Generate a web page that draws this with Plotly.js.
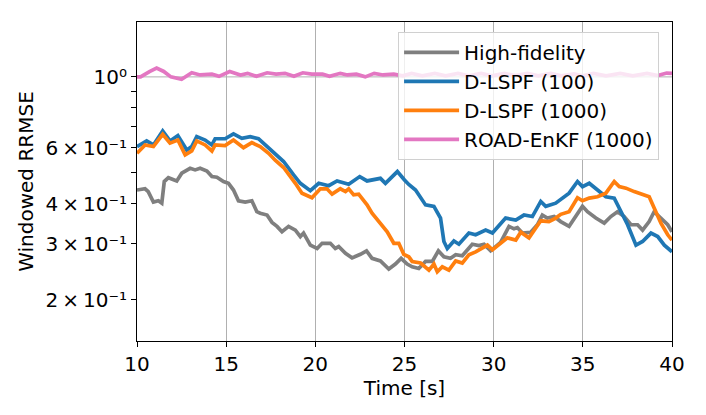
<!DOCTYPE html>
<html>
<head>
<meta charset="utf-8">
<script src="https://cdn.plot.ly/plotly-3.0.1.min.js"></script>
<style>html,body{margin:0;padding:0;background:#fff;}#chart{width:706px;height:415px;}</style>
</head>
<body>
<div id="chart"></div>
<script>
// ---- Data ----
const seriesNames = ["High-fidelity", "D-LSPF (100)", "D-LSPF (1000)", "ROAD-EnKF (1000)"];

const tHF = [10, 10.45, 10.63, 10.92, 11.2, 11.39, 11.53, 11.76, 12.23, 12.51, 12.98, 13.26, 13.54, 13.92, 14.2, 14.48, 14.85, 15.13, 15.41, 15.69, 16.07, 16.44, 16.72, 16.91, 17.29, 17.57, 17.85, 18.13, 18.5, 18.88, 19.16, 19.34, 19.72, 20.1, 20.38, 20.84, 21.12, 21.31, 21.69, 22.06, 22.53, 22.87, 23.18, 23.65, 24.12, 24.49, 24.81, 25.15, 25.43, 25.8, 26.18, 26.56, 26.9, 27.21, 27.58, 27.87, 28.24, 28.8, 29.17, 29.46, 29.83, 30.39, 30.86, 31.14, 31.33, 31.61, 32.08, 32.45, 32.73, 33.01, 33.39, 33.76, 34.23, 34.61, 34.98, 35.26, 35.73, 36.2, 36.57, 36.94, 37.32, 37.7, 38.07, 38.35, 38.72, 39.0, 39.38, 39.76, 40];
const yHF = [0.442, 0.446, 0.437, 0.405, 0.409, 0.402, 0.470, 0.483, 0.472, 0.499, 0.517, 0.511, 0.517, 0.507, 0.487, 0.485, 0.470, 0.464, 0.442, 0.409, 0.405, 0.409, 0.378, 0.374, 0.369, 0.350, 0.340, 0.327, 0.340, 0.331, 0.316, 0.324, 0.297, 0.290, 0.301, 0.301, 0.290, 0.294, 0.280, 0.271, 0.278, 0.285, 0.270, 0.265, 0.250, 0.259, 0.270, 0.259, 0.254, 0.251, 0.264, 0.264, 0.285, 0.273, 0.270, 0.277, 0.275, 0.299, 0.296, 0.299, 0.285, 0.303, 0.340, 0.334, 0.337, 0.324, 0.326, 0.344, 0.369, 0.361, 0.365, 0.352, 0.340, 0.365, 0.393, 0.378, 0.361, 0.348, 0.365, 0.378, 0.365, 0.344, 0.344, 0.331, 0.352, 0.378, 0.361, 0.344, 0.327];

const tD100 = [10, 10.54, 10.92, 11.44, 11.85, 12.29, 12.79, 13.07, 13.35, 13.82, 14.2, 14.38, 14.94, 15.41, 15.88, 16.35, 16.81, 17.29, 17.75, 18.22, 18.78, 19.16, 19.72, 20.19, 20.75, 21.22, 21.87, 22.49, 22.9, 23.65, 23.93, 24.6, 25.0, 25.24, 25.62, 26.18, 26.65, 27.02, 27.21, 27.4, 27.77, 28.05, 28.61, 28.99, 29.55, 29.93, 30.67, 31.24, 31.7, 32.17, 32.64, 32.92, 33.48, 33.86, 34.23, 34.7, 34.98, 35.36, 35.82, 36.29, 36.76, 37.04, 37.51, 37.98, 38.35, 38.82, 39.2, 39.57, 40];
const yD100 = [0.605, 0.630, 0.612, 0.677, 0.630, 0.655, 0.590, 0.605, 0.650, 0.634, 0.612, 0.640, 0.640, 0.663, 0.642, 0.650, 0.640, 0.605, 0.576, 0.543, 0.493, 0.464, 0.440, 0.464, 0.456, 0.472, 0.461, 0.487, 0.472, 0.481, 0.464, 0.505, 0.475, 0.460, 0.442, 0.397, 0.393, 0.361, 0.305, 0.290, 0.306, 0.299, 0.324, 0.320, 0.331, 0.324, 0.361, 0.356, 0.369, 0.365, 0.407, 0.393, 0.402, 0.417, 0.432, 0.470, 0.453, 0.464, 0.442, 0.421, 0.417, 0.388, 0.344, 0.297, 0.305, 0.324, 0.316, 0.297, 0.283];

const tD1000 = [10, 10.45, 10.92, 11.44, 11.85, 12.29, 12.7, 13.07, 13.35, 13.82, 14.2, 14.38, 14.94, 15.41, 15.97, 16.44, 16.91, 17.38, 17.75, 18.22, 18.88, 19.25, 19.81, 20.28, 20.65, 20.94, 21.4, 21.69, 21.87, 22.15, 22.43, 22.9, 23.18, 23.56, 24.03, 24.4, 24.68, 24.96, 25.24, 25.43, 25.9, 26.37, 26.65, 26.84, 27.12, 27.49, 27.87, 28.24, 28.61, 28.99, 29.65, 29.93, 30.49, 30.77, 31.24, 31.52, 31.98, 32.26, 32.64, 33.1, 33.48, 33.76, 34.23, 34.7, 34.98, 35.36, 35.82, 36.29, 36.76, 37.04, 37.42, 37.88, 38.35, 38.72, 39.0, 39.38, 39.76, 40];
const yD1000 = [0.576, 0.612, 0.605, 0.661, 0.620, 0.634, 0.570, 0.586, 0.630, 0.612, 0.586, 0.612, 0.609, 0.634, 0.600, 0.622, 0.605, 0.576, 0.548, 0.520, 0.464, 0.432, 0.418, 0.446, 0.446, 0.429, 0.446, 0.437, 0.446, 0.427, 0.429, 0.397, 0.374, 0.352, 0.327, 0.301, 0.301, 0.278, 0.273, 0.264, 0.261, 0.248, 0.259, 0.245, 0.254, 0.248, 0.265, 0.261, 0.277, 0.283, 0.297, 0.287, 0.305, 0.313, 0.308, 0.326, 0.313, 0.331, 0.354, 0.352, 0.361, 0.371, 0.378, 0.418, 0.409, 0.417, 0.421, 0.432, 0.470, 0.453, 0.448, 0.437, 0.427, 0.421, 0.388, 0.348, 0.320, 0.308];

const tROAD = [10, 10.2, 10.7, 11.1, 11.5, 11.9, 12.5, 13.07, 13.54, 14.2, 14.6, 15.2, 15.8, 16.2, 16.7, 17.3, 17.8, 18.3, 18.8, 19.3, 19.8, 20.4, 20.8, 21.4, 21.8, 22.3, 22.8, 23.3, 23.8, 24.4, 24.9, 25.4, 26.0, 26.7, 27.3, 28.0, 28.6, 29.3, 29.9, 30.6, 31.2, 31.9, 32.5, 33.2, 33.8, 34.5, 35.0, 35.6, 36.3, 37.1, 37.8, 38.6, 39.2, 39.7, 40];
const yROAD = [1.0, 1.0, 1.039, 1.065, 1.04, 1.0, 0.983, 1.031, 1.014, 1.02, 1.004, 1.039, 1.014, 1.026, 1.004, 1.03, 1.02, 1.026, 1.004, 1.03, 1.02, 1.02, 1.004, 1.026, 1.014, 1.02, 1.0, 1.026, 1.014, 1.02, 1.008, 1.025, 1.008, 1.025, 1.008, 1.025, 1.008, 1.025, 1.008, 1.025, 1.01, 1.025, 1.008, 1.025, 1.008, 1.022, 1.008, 1.025, 1.008, 1.025, 1.008, 1.025, 1.01, 1.028, 1.025];

const xTickVals = [10, 15, 20, 25, 30, 35, 40];
const yTickVals = [0.2, 0.3, 0.4, 0.5, 0.6, 0.7, 0.8, 0.9, 1.0];
const yTickText = ["2\u2009×\u200910⁻¹", "3\u2009×\u200910⁻¹", "4\u2009×\u200910⁻¹", "", "6\u2009×\u200910⁻¹", "", "", "", "10⁰"];

const colors = ["#7f7f7f", "#1f77b4", "#ff7f0e", "#e377c2"];

// ---- Build traces ----
const xs = [tHF, tD100, tD1000, tROAD];
const ys = [yHF, yD100, yD1000, yROAD];
const traces = seriesNames.map((name, i) => ({
  x: xs[i], y: ys[i], name: name, type: "scatter", mode: "lines",
  line: {color: colors[i], width: 3.7}
}));

const FONT = "DejaVu Sans, sans-serif";
const layout = {
  width: 706, height: 415,
  margin: {l: 137, r: 34, t: 22, b: 74},
  paper_bgcolor: "#ffffff", plot_bgcolor: "#ffffff",
  font: {family: FONT, size: 20, color: "#000"},
  showlegend: true,
  legend: {
    x: 0.488, y: 0.969, xanchor: "left", yanchor: "top",
    bgcolor: "rgba(255,255,255,0.8)", bordercolor: "#d0d0d0", borderwidth: 1,
    font: {family: FONT, size: 20, color: "#000"},
    itemwidth: 55,
    tracegroupgap: 0
  },
  xaxis: {
    range: [10, 40], tickmode: "array", tickvals: xTickVals,
    showgrid: true, gridcolor: "#b0b0b0", gridwidth: 1,
    zeroline: false, showline: true, linecolor: "#000", linewidth: 1, mirror: true,
    ticks: "outside", ticklen: 5, tickcolor: "#000",
    tickfont: {family: FONT, size: 20},
    title: {text: "Time [s]", font: {family: FONT, size: 20}, standoff: 2},
    automargin: false
  },
  yaxis: {
    type: "log", range: [Math.log10(0.1487), Math.log10(1.486)],
    tickmode: "array", tickvals: yTickVals, ticktext: yTickText,
    showgrid: false, zeroline: false,
    showline: true, linecolor: "#000", linewidth: 1, mirror: true,
    ticks: "outside", ticklen: 5, tickcolor: "#000",
    tickfont: {family: FONT, size: 20},
    title: {text: "Windowed RRMSE", font: {family: FONT, size: 20}, standoff: 6},
    automargin: false
  },
  shapes: [{
    type: "line", xref: "paper", yref: "y", x0: 0, x1: 1, y0: 1, y1: 1,
    line: {color: "#b0b0b0", width: 1}, layer: "below"
  }]
};

Plotly.newPlot("chart", traces, layout, {staticPlot: true, displayModeBar: false});
</script>
</body>
</html>
